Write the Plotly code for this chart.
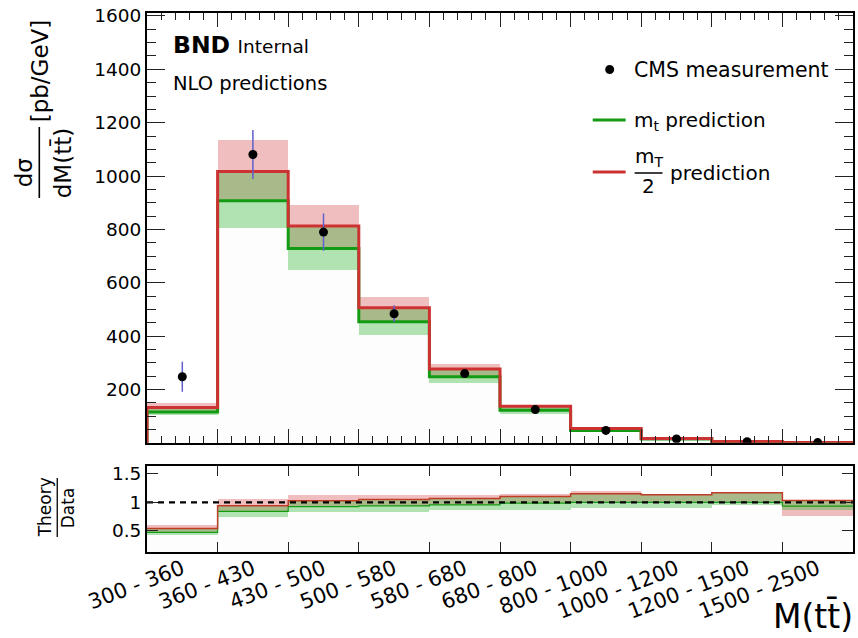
import plotly.graph_objects as go

# ---------------------------------------------------------------- data
bin_labels = ["300 - 360", "360 - 430", "430 - 500", "500 - 580", "580 - 680",
              "680 - 800", "800 - 1000", "1000 - 1200", "1200 - 1500", "1500 - 2500"]

# CMS measurement [pb/GeV] and its uncertainty
cms_value = [248, 1081, 790, 484, 260, 125, 47, 15, 5.0, 1.5]
cms_error = [56, 92, 70, 32, 12, 6, 2.5, 0.8, 0.3, 0.1]

# NLO prediction, scale mu = mT/2
mT2_value = [133, 1017, 813, 507, 277, 138, 54, 17, 5.85, 1.55]
mT2_high = [150, 1136, 890, 546, 295, 143, 56, 17.3, 5.95, 1.56]
mT2_low = [116, 908, 729, 454, 248, 123, 47, 15, 5.0, 1.14]

# NLO prediction, scale mu = mt
mt_value = [116, 908, 729, 454, 248, 123, 47, 15, 5.0, 1.40]
mt_high = [133, 1017, 813, 507, 277, 138, 54, 17, 5.85, 1.55]
mt_low = [104, 804, 648, 404, 223, 108, 42.3, 13.5, 4.75, 1.30]

# ---------------------------------------------------------------- style
FONT = "DejaVu Sans"
RED = "rgb(205,50,50)"
GREEN = "rgb(20,155,20)"
RED_FILL = "rgba(205,40,40,0.30)"
GREEN_FILL = "rgba(50,180,50,0.38)"
FAINT = "rgba(0,0,0,0.007)"
ERR_BLUE = "rgb(95,95,205)"

n = len(bin_labels)
edges = list(range(n + 1))
centers = [i + 0.5 for i in range(n)]

# plot-area geometry in pixels (used for placing the text blocks)
L_PX, R_PX, T_PX, B_PX = 147, 855, 13, 552


def px(x):
    return (x - L_PX) / (R_PX - L_PX)


def py(y):
    return (B_PX - y) / (B_PX - T_PX)


def step_xy(vals, from_zero=False):
    xs = list(edges)
    ys = list(vals) + [vals[-1]]
    if from_zero:
        xs = [0] + xs
        ys = [0] + ys
    return xs, ys


def ratio(a):
    return [v / d for v, d in zip(a, cms_value)]


fig = go.Figure()

# ---------------------------------------------------------------- main panel
fig.add_trace(go.Bar(x=centers, y=mt_low, width=1, marker=dict(color=FAINT, line_width=0),
                     xaxis="x", yaxis="y", hoverinfo="skip"))
fig.add_trace(go.Bar(x=centers, y=[h - l for h, l in zip(mT2_high, mT2_low)], base=mT2_low,
                     width=1, marker=dict(color=RED_FILL, line_width=0), xaxis="x", yaxis="y"))
fig.add_trace(go.Bar(x=centers, y=[h - l for h, l in zip(mt_high, mt_low)], base=mt_low,
                     width=1, marker=dict(color=GREEN_FILL, line_width=0), xaxis="x", yaxis="y"))

gx, gy = step_xy(mt_value, from_zero=True)
fig.add_trace(go.Scatter(x=gx, y=gy, mode="lines", line=dict(color=GREEN, width=3, shape="hv"),
                         xaxis="x", yaxis="y"))
rx, ry = step_xy(mT2_value, from_zero=True)
fig.add_trace(go.Scatter(x=rx, y=ry, mode="lines", line=dict(color=RED, width=3, shape="hv"),
                         xaxis="x", yaxis="y"))

fig.add_trace(go.Scatter(x=centers, y=cms_value, mode="markers",
                         marker=dict(color="black", size=9),
                         error_y=dict(type="data", array=cms_error, color=ERR_BLUE,
                                      thickness=1.5, width=0),
                         xaxis="x", yaxis="y"))

# ---------------------------------------------------------------- ratio panel
r_mT2_low, r_mT2_high = ratio(mT2_low), ratio(mT2_high)
r_mt_low, r_mt_high = ratio(mt_low), ratio(mt_high)

fig.add_trace(go.Bar(x=centers, y=r_mt_low, width=1, marker=dict(color=FAINT, line_width=0),
                     xaxis="x2", yaxis="y2"))
fig.add_trace(go.Bar(x=centers, y=[h - l for h, l in zip(r_mT2_high, r_mT2_low)], base=r_mT2_low,
                     width=1, marker=dict(color=RED_FILL, line_width=0), xaxis="x2", yaxis="y2"))
fig.add_trace(go.Bar(x=centers, y=[h - l for h, l in zip(r_mt_high, r_mt_low)], base=r_mt_low,
                     width=1, marker=dict(color=GREEN_FILL, line_width=0), xaxis="x2", yaxis="y2"))

gx2, gy2 = step_xy(ratio(mt_value))
fig.add_trace(go.Scatter(x=gx2, y=gy2, mode="lines", line=dict(color=GREEN, width=1.2, shape="hv"),
                         xaxis="x2", yaxis="y2"))
rx2, ry2 = step_xy(ratio(mT2_value))
fig.add_trace(go.Scatter(x=rx2, y=ry2, mode="lines", line=dict(color="rgb(190,60,40)", width=1.5, shape="hv"),
                         xaxis="x2", yaxis="y2"))
fig.add_trace(go.Scatter(x=[edges[0], edges[-1]], y=[1, 1], mode="lines",
                         line=dict(color="black", width=2.2, dash="6px,5px"),
                         xaxis="x2", yaxis="y2"))

# carrier for the bin-label axis
fig.add_trace(go.Scatter(x=centers, y=[1] * n, mode="markers", marker=dict(opacity=0),
                         xaxis="x3", yaxis="y2", hoverinfo="skip"))

# ---------------------------------------------------------------- axes
frame = dict(showline=True, linewidth=2, linecolor="black", mirror="ticks",
             showgrid=False, zeroline=False, tickcolor="#222")
main_bottom = py(442.7)
ratio_top = py(466)

fig.update_layout(
    width=858, height=638,
    margin=dict(l=L_PX, r=858 - R_PX, t=T_PX, b=638 - B_PX),
    paper_bgcolor="white", plot_bgcolor="white",
    showlegend=False, barmode="overlay", bargap=0,
    font=dict(family=FONT, color="black"),
    xaxis=dict(domain=[0, 1], anchor="y", range=[0, n], tickmode="linear", tick0=0, dtick=1,
               ticks="inside", ticklen=14, tickwidth=1.2, showticklabels=False,
               minor=dict(ticks="inside", dtick=0.2, tick0=0, ticklen=7, tickwidth=1, tickcolor="#222"),
               **frame),
    yaxis=dict(domain=[main_bottom, 1], anchor="x", range=[1, 1611], tickmode="linear", tick0=0,
               dtick=200, ticks="inside", ticklen=18, tickwidth=1.2,
               tickfont=dict(size=18.5, family=FONT),
               minor=dict(ticks="inside", dtick=50, tick0=0, ticklen=9, tickwidth=1, tickcolor="#222"),
               **frame),
    xaxis2=dict(domain=[0, 1], anchor="y2", range=[0, n], tickmode="linear", tick0=0, dtick=1,
                ticks="inside", ticklen=10, tickwidth=1.2, showticklabels=False, **frame),
    xaxis3=dict(overlaying="x2", anchor="y2", side="bottom", range=[0, n], tickmode="array",
                tickvals=centers, ticktext=bin_labels, ticks="", showline=False, showgrid=False,
                zeroline=False, tickangle=-21, tickfont=dict(size=21, family=FONT)),
    yaxis2=dict(domain=[0, ratio_top], anchor="x2", range=[0.123, 1.64], tickmode="array",
                tickvals=[0.5, 1, 1.5], ticktext=["0.5", "1", "1.5"], ticks="inside", ticklen=11,
                tickwidth=1.2, tickfont=dict(size=18.5, family=FONT), **frame),
)

# ---------------------------------------------------------------- text blocks
ann = []
shapes = []


def text(x, y, s, size, anchor="left", angle=0, **kw):
    ann.append(dict(xref="paper", yref="paper", x=px(x), y=py(y), text=s, showarrow=False,
                    xanchor=anchor, yanchor="middle", textangle=angle,
                    font=dict(size=size, family=FONT, color="black"), **kw))


def hline(x0, x1, y, color, width):
    shapes.append(dict(type="line", xref="paper", yref="paper", x0=px(x0), x1=px(x1),
                       y0=py(y), y1=py(y), line=dict(color=color, width=width)))


def vline(x, y0, y1, color, width):
    shapes.append(dict(type="line", xref="paper", yref="paper", x0=px(x), x1=px(x),
                       y0=py(y0), y1=py(y1), line=dict(color=color, width=width)))


# labels in the top-left corner
text(171, 45, "<b>BND</b> <span style='font-size:18.5px'>Internal</span>", 23.5)
text(171, 84, "NLO predictions", 19.5)

# legend
shapes.append(dict(type="circle", xref="paper", yref="paper", xsizemode="pixel", ysizemode="pixel",
                   xanchor=px(611), yanchor=py(69.5), x0=-4.5, x1=4.5, y0=-4.5, y1=4.5,
                   fillcolor="black", line=dict(width=0)))
text(633, 70, "CMS measurement", 20.5)
hline(594, 627, 120, GREEN, 3)
text(633, 121, "m<sub>t</sub> prediction", 20)
hline(594, 627, 172, RED, 3)
text(650, 157, "m<sub>T</sub>", 20, anchor="center")
hline(636, 664, 173, "black", 1.5)
text(650, 186, "2", 20, anchor="center")
text(669, 173, "prediction", 20)

# y-axis title of the main panel
text(24, 173, "dσ", 23, anchor="center", angle=-90)
vline(39, 127, 198, "black", 1.6)
text(63, 163, "dM(tt\u0304)", 23, anchor="center", angle=-90)
text(40, 71, "[pb/GeV]", 23, anchor="center", angle=-90)

# y-axis title of the ratio panel
text(45, 507, "Theory", 17, anchor="center", angle=-90)
vline(57, 478, 537, "black", 1.3)
text(68, 508, "Data", 17, anchor="center", angle=-90)

# x-axis title
text(857, 616, "M(tt\u0304)", 33, anchor="right")

fig.update_layout(annotations=ann, shapes=shapes)

fig.write_html("out.html")
